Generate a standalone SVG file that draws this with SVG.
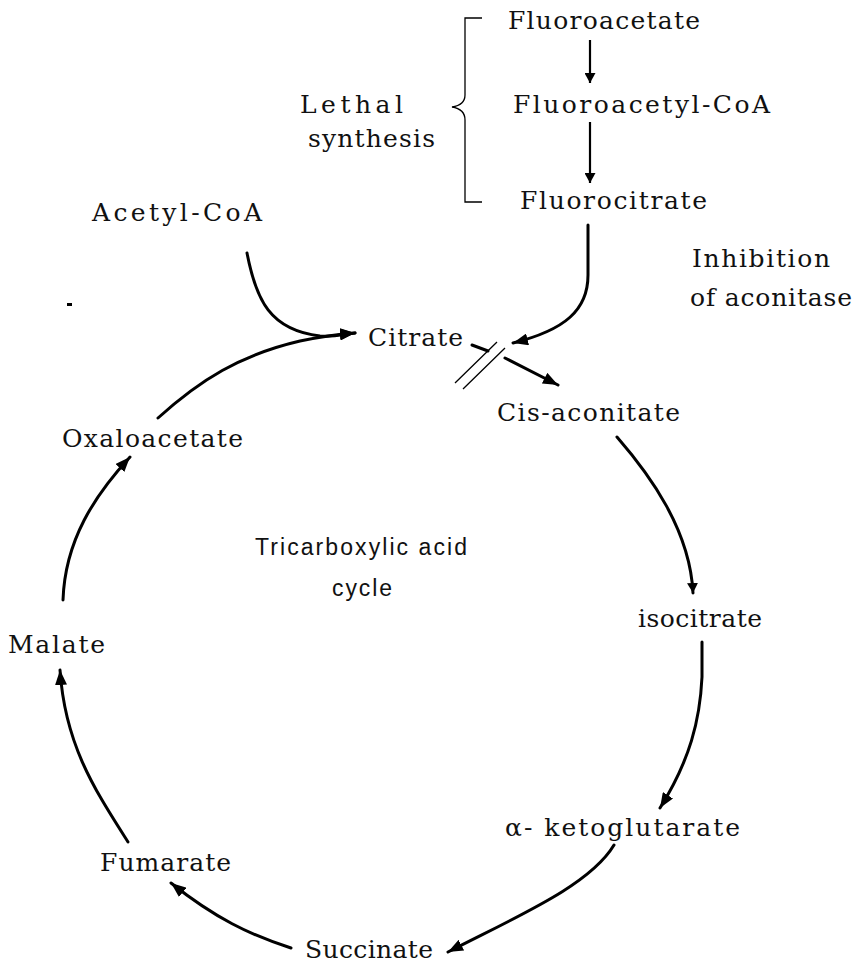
<svg xmlns="http://www.w3.org/2000/svg" width="857" height="971" viewBox="0 0 857 971">
<style>
.t{font-family:"DejaVu Serif","Liberation Serif",serif;font-size:25px;fill:#111;}
.s{font-family:"Liberation Sans",Arial,sans-serif;font-size:23px;fill:#111;}
.c{fill:none;stroke:#000;stroke-width:3;stroke-linecap:round;}
.cl{fill:none;stroke:#000;stroke-width:2.2;}
.thin{fill:none;stroke:#000;stroke-width:1.3;}
</style>
<defs>
<marker id="ah" markerUnits="userSpaceOnUse" markerWidth="16" markerHeight="12" refX="15" refY="6" orient="auto">
<path d="M0,0 L15,6 L0,12 z" fill="#000"/>
</marker>
<marker id="ahs" markerUnits="userSpaceOnUse" markerWidth="11" markerHeight="11" refX="10" refY="5.5" orient="auto">
<path d="M0,0 L10,5.5 L0,11 z" fill="#000"/>
</marker>
</defs>
<rect width="857" height="971" fill="#fff"/>

<g id="connectors">
<path class="thin" d="M482,18 L465,18 L465,95 Q465,105 452,107 Q465,109 465,120 L465,202 L482,202"/>
<path class="cl" d="M590,40 L590,83" marker-end="url(#ahs)"/>
<path class="cl" d="M590,122 L590,183" marker-end="url(#ahs)"/>
<path class="c" d="M247,253 C256,300 270,330 320,336 C335,337 345,334 355,333" marker-end="url(#ah)"/>
<path class="c" d="M158,418 C200,380 240,355 300,341 C320,337 340,334 355,333" marker-end="url(#ah)"/>
<path class="c" d="M588,225 L588,275 C588,310 565,330 513,343" marker-end="url(#ah)"/>
<path class="c" d="M472,345 L488,351"/>
<path class="thin" d="M455,383 L497,342 M463,389 L505,348"/>
<path class="c" d="M505,358 L558,385" marker-end="url(#ah)"/>
<path class="c" d="M617,437 C650,475 690,530 693,593" marker-end="url(#ahs)"/>
<path class="c" d="M702,642 L702,677 C700,720 690,760 660,808" marker-end="url(#ah)"/>
<path class="c" d="M614,845 C590,885 520,915 448,952" marker-end="url(#ah)"/>
<path class="c" d="M291,948 C250,935 215,918 171,883" marker-end="url(#ah)"/>
<path class="c" d="M128,842 C95,790 65,745 60,670" marker-end="url(#ah)"/>
<path class="c" d="M63,600 C65,540 95,495 130,457" marker-end="url(#ah)"/>
</g>

<rect x="67" y="303" width="5" height="3" fill="#000"/>

<g id="fluoroacetate"><text class="t" x="508" y="29" textLength="192">Fluoroacetate</text></g>
<g id="fluoroacetyl-coa"><text class="t" x="513" y="113" textLength="257">Fluoroacetyl-CoA</text></g>
<g id="fluorocitrate"><text class="t" x="520" y="209" textLength="187">Fluorocitrate</text></g>
<g id="lethal-synthesis">
<text class="t" x="300" y="113" textLength="103">Lethal</text>
<text class="t" x="308" y="147" textLength="127">synthesis</text>
</g>
<g id="acetyl-coa"><text class="t" x="92" y="221" textLength="170">Acetyl-CoA</text></g>
<g id="inhibition">
<text class="t" x="692" y="267" textLength="138">Inhibition</text>
<text class="t" x="690" y="306" textLength="162">of aconitase</text>
</g>
<g id="citrate"><text class="t" x="368" y="346" textLength="95">Citrate</text></g>
<g id="cis-aconitate"><text class="t" x="497" y="421" textLength="183">Cis-aconitate</text></g>
<g id="oxaloacetate"><text class="t" x="62" y="447" textLength="181">Oxaloacetate</text></g>
<g id="tca-label">
<text class="s" x="255" y="555" textLength="212">Tricarboxylic acid</text>
<text class="s" x="332" y="596" textLength="60">cycle</text>
</g>
<g id="isocitrate"><text class="t" x="638" y="627" textLength="124">isocitrate</text></g>
<g id="malate"><text class="t" x="8" y="653" textLength="97">Malate</text></g>
<g id="alpha-ketoglutarate"><text class="t" x="505" y="836" textLength="235">α- ketoglutarate</text></g>
<g id="fumarate"><text class="t" x="100" y="871" textLength="131">Fumarate</text></g>
<g id="succinate"><text class="t" x="305" y="958" textLength="128">Succinate</text></g>
</svg>
